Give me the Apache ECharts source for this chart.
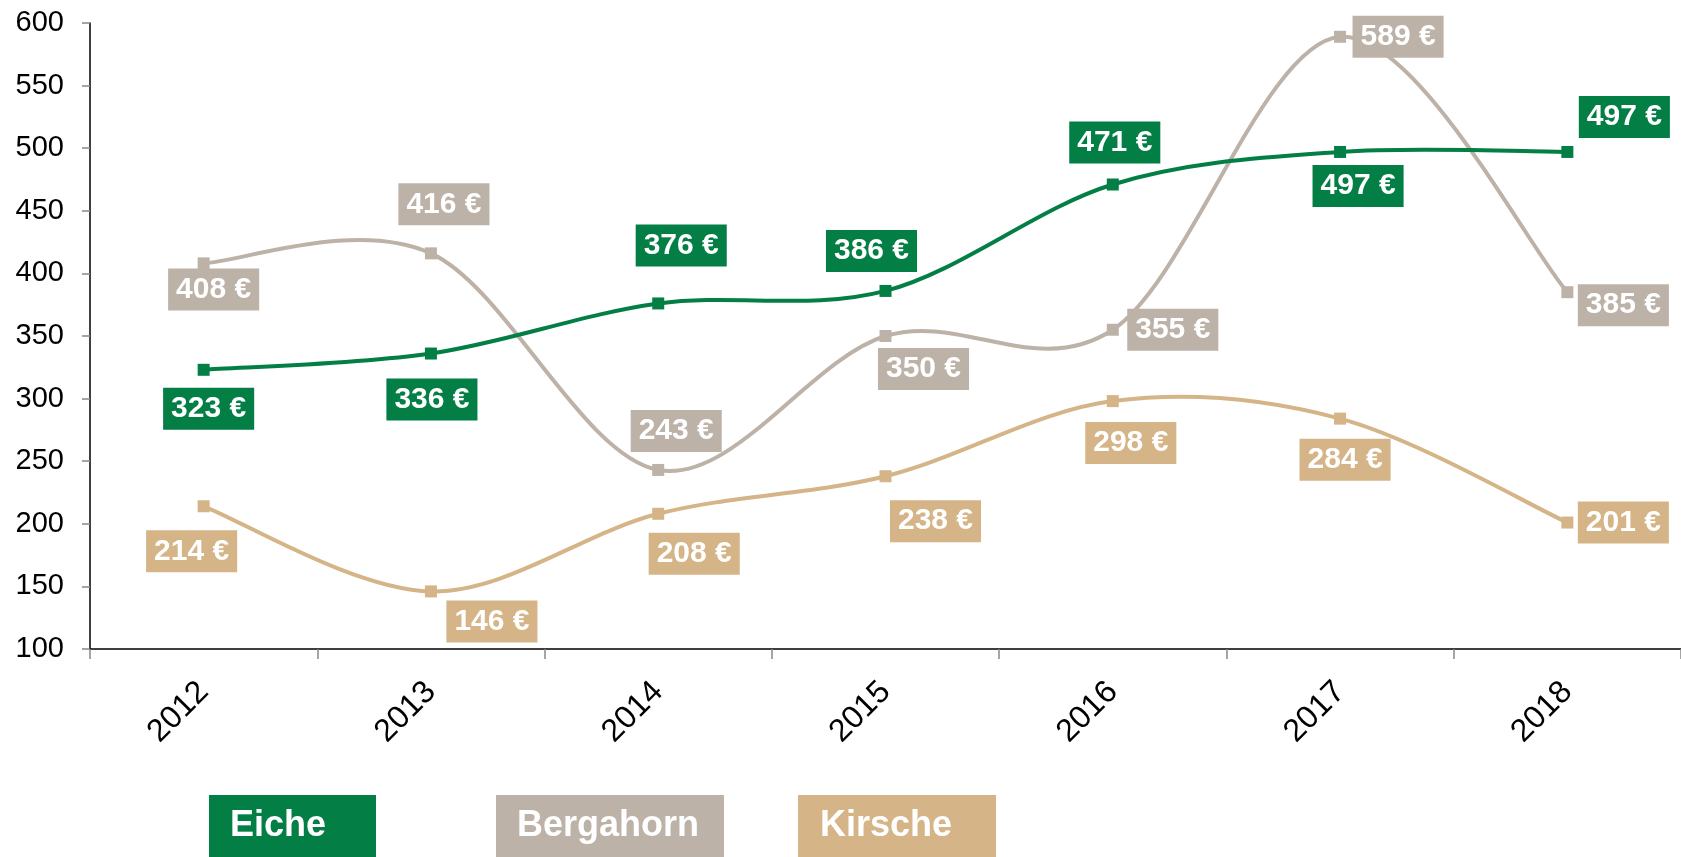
<!DOCTYPE html>
<html>
<head>
<meta charset="utf-8">
<title>Preise</title>
<script src="https://cdn.jsdelivr.net/npm/echarts@6/dist/echarts.min.js"></script>
<style>
html,body{
    margin:0;
    padding:0;
    background:#fff;
}
#chart{
    width:1681px;
    height:857px;
}
</style>
</head>
<body>
<div id="chart"></div>
<script>
// Jahre und Preise (€)
var years = ['2012','2013','2014','2015','2016','2017','2018'];
var eiche = [323, 336, 376, 386, 471, 497, 497];
var bergahorn = [408, 416, 243, 350, 355, 589, 385];
var kirsche = [214, 146, 208, 238, 298, 284, 201];

// Lage der Beschriftung relativ zum Punkt
var eicheOffset = [[5,39],[1,46],[23,-58],[-14,-40],[2,-42],[18,34],[57,-35]];
var bergahornOffset = [[10,26],[13,-49],[18,-39],[38,33],[60,0],[58,0],[56,13]];
var kirscheOffset = [[-12,45],[61,30],[36,40],[50,45],[18,42],[5,41],[56,0]];

var colors = {
    Eiche:'#037f46',
    Bergahorn:'#bdb2a8',
    Kirsche:'#d5b487'
};
var font = '"Liberation Sans", Arial, sans-serif';

function buildData(values, offsets, color){
    return values.map(function(v, i){
        return {
            value: v,
            label: {
                offset: offsets[i],
                backgroundColor: color
            }
        };
    });
}

// Kurve wie in Excel geglättet (Catmull-Rom), Punkte kommen über api.coord
function buildCurve(name, values){
    return {
        name: name + ' Kurve',
        type: 'custom',
        silent: true,
        data: [[0, values[0]]],
        renderItem: function(params, api){
            var pts = values.map(function(v, i){ return api.coord([i, v]); });
            var d = 'M' + pts[0][0] + ' ' + pts[0][1];
            for(var i = 0; i < pts.length - 1; i++){
                var p0 = pts[i-1] || pts[i];
                var p1 = pts[i];
                var p2 = pts[i+1];
                var p3 = pts[i+2] || pts[i+1];
                var c1x = p1[0] + (p2[0]-p0[0])/6, c1y = p1[1] + (p2[1]-p0[1])/6;
                var c2x = p2[0] - (p3[0]-p1[0])/6, c2y = p2[1] - (p3[1]-p1[1])/6;
                d += ' C' + c1x + ' ' + c1y + ' ' + c2x + ' ' + c2y + ' ' + p2[0] + ' ' + p2[1];
            }
            return {
                type: 'path',
                shape: {pathData: d},
                style: {fill: 'none', stroke: colors[name], lineWidth: 4}
            };
        }
    };
}

function buildSeries(name, values, offsets){
    return {
        name: name,
        type: 'line',
        symbol: 'rect',
        symbolSize: 12,
        lineStyle: {width: 0, opacity: 0},
        itemStyle: {color: colors[name]},
        label: {
            show: true,
            position: 'inside',
            color: '#fff',
            fontFamily: font,
            fontWeight: 'bold',
            fontSize: 30,
            lineHeight: 30,
            padding: [6,8,6,8],
            formatter: '{c} €'
        },
        data: buildData(values, offsets, colors[name])
    };
}

function buildLegend(name, left, width, padLeft){
    return {
        data: [name],
        left: left,
        top: 795,
        padding: 0,
        icon: 'none',
        itemWidth: 0,
        itemHeight: 62,
        selectedMode: false,
        textStyle: {
            color: '#fff',
            fontFamily: font,
            fontWeight: 'bold',
            fontSize: 36,
            lineHeight: 36,
            width: width,
            backgroundColor: colors[name],
            padding: [20,0,6,padLeft]
        }
    };
}

var chart = echarts.init(document.getElementById('chart'));
chart.setOption({
    animation: false,
    grid: {
        left: 90,
        right: -4,
        top: 23,
        bottom: 208
    },
    legend: [
        buildLegend('Eiche', 204, 146, 21),
        buildLegend('Bergahorn', 491, 207, 21),
        buildLegend('Kirsche', 793, 176, 22)
    ],
    xAxis: {
        type: 'category',
        data: years,
        boundaryGap: true,
        axisLine: {lineStyle: {color: '#000', width: 1.5}},
        axisTick: {show: true, length: 10, lineStyle: {color: '#888', width: 1.5}},
        axisLabel: {
            rotate: 45,
            margin: 38,
            color: '#000',
            fontFamily: font,
            fontSize: 32
        }
    },
    yAxis: {
        type: 'value',
        min: 100,
        max: 600,
        interval: 50,
        splitLine: {show: false},
        axisLine: {show: true, lineStyle: {color: '#000', width: 1.5}},
        axisTick: {show: true, length: 8, lineStyle: {color: '#888', width: 1.5}},
        axisLabel: {
            margin: 26,
            color: '#000',
            fontFamily: font,
            fontSize: 29
        }
    },
    series: [
        buildCurve('Kirsche', kirsche),
        buildCurve('Bergahorn', bergahorn),
        buildCurve('Eiche', eiche),
        buildSeries('Kirsche', kirsche, kirscheOffset),
        buildSeries('Bergahorn', bergahorn, bergahornOffset),
        buildSeries('Eiche', eiche, eicheOffset)
    ]
});
</script>
</body>
</html>
